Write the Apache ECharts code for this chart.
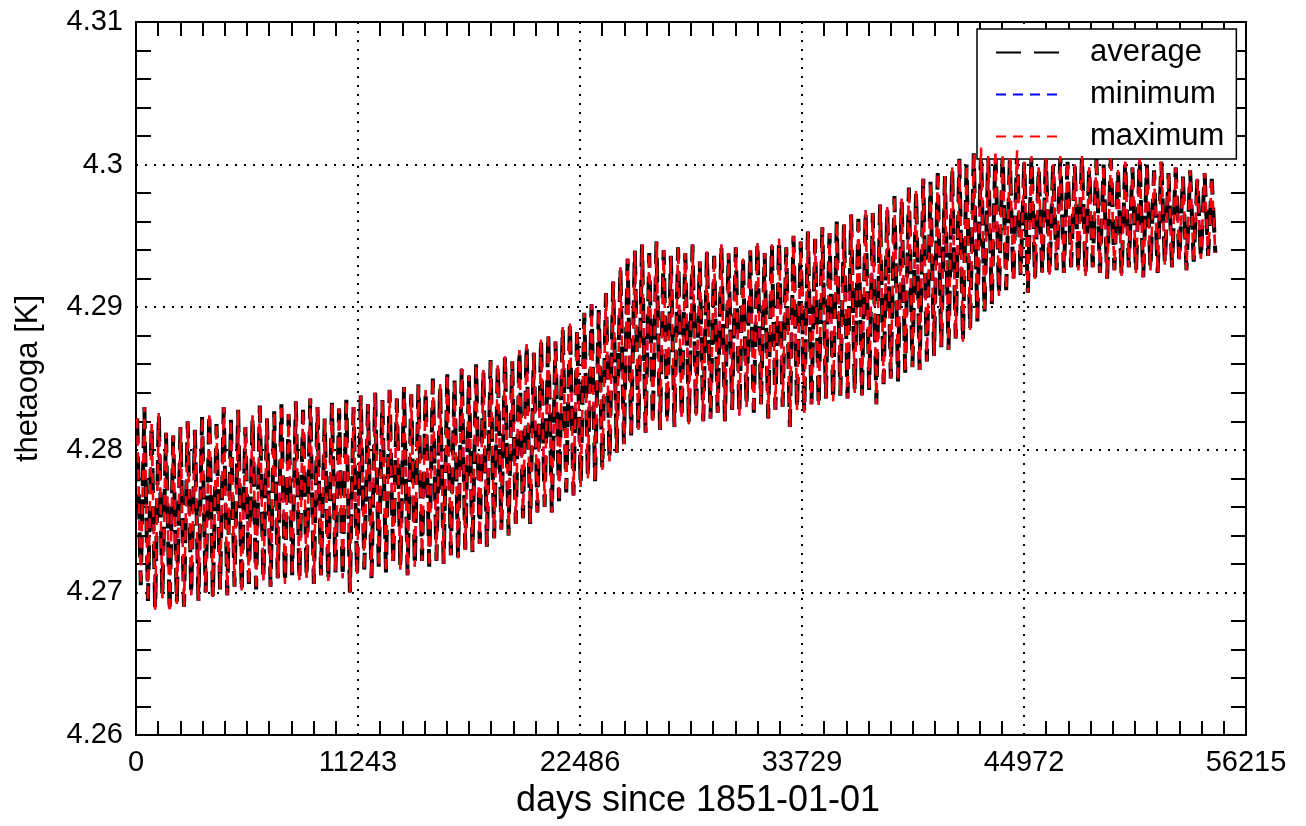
<!DOCTYPE html>
<html>
<head>
<meta charset="utf-8">
<script src="https://cdn.jsdelivr.net/npm/echarts@6/dist/echarts.min.js"></script>
<style>
html,body{margin:0;padding:0;background:#fff;}
#chart{width:1306px;height:826px;}
</style>
</head>
<body>
<div id="chart"></div>
<script>
// Tick labels / axis setup values
const xTicks = [0, 11243, 22486, 33729, 44972, 56215];
const yTicks = [4.26, 4.27, 4.28, 4.29, 4.30, 4.31];
const seriesNames = ['average', 'minimum', 'maximum'];

// Yearly seasonal highs, one per model year
const yearlyPeaks = [
  4.2822, 4.2830, 4.2818, 4.2826, 4.2812, 4.2810, 4.2816, 4.2820, 4.2814, 4.2823,
  4.2826, 4.2818, 4.2830, 4.2821, 4.2828, 4.2816, 4.2824, 4.2831, 4.2822, 4.2827,
  4.2832, 4.2825, 4.2834, 4.2828, 4.2836, 4.2830, 4.2822, 4.2833, 4.2829, 4.2835,
  4.2830, 4.2838, 4.2832, 4.2840, 4.2835, 4.2842, 4.2836, 4.2844, 4.2839, 4.2846,
  4.2842, 4.2850, 4.2846, 4.2853, 4.2849, 4.2857, 4.2852, 4.2860, 4.2856, 4.2863,
  4.2860, 4.2866, 4.2862, 4.2870, 4.2874, 4.2868, 4.2878, 4.2882, 4.2876, 4.2886,
  4.2890, 4.2884, 4.2896, 4.2902, 4.2898, 4.2910, 4.2918, 4.2928, 4.2934, 4.2940,
  4.2944, 4.2938, 4.2946, 4.2940, 4.2936, 4.2942, 4.2938, 4.2944, 4.2932, 4.2939,
  4.2936, 4.2944, 4.2938, 4.2942, 4.2934, 4.2940, 4.2946, 4.2938, 4.2944, 4.2948,
  4.2942, 4.2950, 4.2946, 4.2953, 4.2948, 4.2956, 4.2952, 4.2960, 4.2958, 4.2965,
  4.2962, 4.2968, 4.2966, 4.2972, 4.2970, 4.2978, 4.2976, 4.2984, 4.2982, 4.2990,
  4.2988, 4.2994, 4.2992, 4.2998, 4.3004, 4.3000, 4.3008, 4.3012, 4.3006, 4.3010,
  4.3008, 4.3004, 4.3010, 4.3002, 4.3006, 4.2998, 4.3004, 4.3000, 4.3006, 4.3002,
  4.3000, 4.3006, 4.2998, 4.3004, 4.3000, 4.3006, 4.2996, 4.3002, 4.2998, 4.3004,
  4.3000, 4.2996, 4.3002, 4.2994, 4.2998, 4.2992, 4.2996, 4.2990, 4.2994, 4.2990
];
// Yearly seasonal lows
const yearlyTroughs = [
  4.2705, 4.2694, 4.2688, 4.2696, 4.2686, 4.2692, 4.2690, 4.2698, 4.2694, 4.2700,
  4.2696, 4.2702, 4.2698, 4.2704, 4.2700, 4.2706, 4.2702, 4.2708, 4.2704, 4.2710,
  4.2706, 4.2712, 4.2708, 4.2710, 4.2706, 4.2712, 4.2708, 4.2714, 4.2710, 4.2700,
  4.2712, 4.2716, 4.2710, 4.2718, 4.2714, 4.2720, 4.2716, 4.2712, 4.2718, 4.2722,
  4.2718, 4.2722, 4.2720, 4.2726, 4.2724, 4.2730, 4.2728, 4.2734, 4.2732, 4.2738,
  4.2744, 4.2740, 4.2748, 4.2752, 4.2748, 4.2756, 4.2760, 4.2756, 4.2764, 4.2770,
  4.2768, 4.2774, 4.2780, 4.2778, 4.2786, 4.2792, 4.2798, 4.2804, 4.2810, 4.2814,
  4.2812, 4.2818, 4.2814, 4.2820, 4.2816, 4.2822, 4.2818, 4.2824, 4.2820, 4.2822,
  4.2826, 4.2820, 4.2828, 4.2824, 4.2830, 4.2826, 4.2832, 4.2822, 4.2828, 4.2830,
  4.2816, 4.2828, 4.2826, 4.2832, 4.2830, 4.2836, 4.2834, 4.2838, 4.2836, 4.2840,
  4.2838, 4.2842, 4.2832, 4.2846, 4.2850, 4.2848, 4.2854, 4.2858, 4.2856, 4.2862,
  4.2866, 4.2872, 4.2870, 4.2878, 4.2876, 4.2884, 4.2890, 4.2896, 4.2902, 4.2908,
  4.2912, 4.2918, 4.2922, 4.2910, 4.2920, 4.2924, 4.2922, 4.2926, 4.2924, 4.2928,
  4.2926, 4.2922, 4.2928, 4.2924, 4.2920, 4.2926, 4.2922, 4.2928, 4.2924, 4.2921,
  4.2926, 4.2924, 4.2930, 4.2928, 4.2932, 4.2926, 4.2932, 4.2934, 4.2936, 4.2938
];
// The global min and max fields coincide with the average
const minValues = yearlyPeaks;   // same field
const maxValues = yearlyPeaks;

const DAYS_PER_YEAR = 365.25;
function buildSeries(peaks, troughs) {
  const out = [];
  for (let i = 0; i < peaks.length; i++) {
    out.push([i * DAYS_PER_YEAR + 60, peaks[i]]);
    out.push([i * DAYS_PER_YEAR + 240, troughs[i]]);
  }
  return out;
}
const avgData = buildSeries(yearlyPeaks, yearlyTroughs);
const minData = buildSeries(minValues, yearlyTroughs);
const maxData = buildSeries(maxValues, yearlyTroughs);

const FONT = 'Liberation Sans';
const xMin = xTicks[0], xMax = xTicks[xTicks.length - 1], xInt = xTicks[1] - xTicks[0];
const yMin = yTicks[0], yMax = yTicks[yTicks.length - 1];

const fmtY = v => String(parseFloat(v.toFixed(2)));
const fmtX = v => String(Math.round(v));

function baseX(extra) {
  return Object.assign({
    type: 'value', min: xMin, max: xMax, interval: xInt,
    axisLine: { show: true, onZero: false, lineStyle: { color: '#000', width: 2 } },
    axisTick: { show: false, inside: true },
    minorTick: { show: true, splitNumber: 10, length: 14, lineStyle: { color: '#000', width: 2 } },
    splitLine: { show: false },
    minorSplitLine: { show: false }
  }, extra);
}
function baseY(extra) {
  return Object.assign({
    type: 'value', min: yMin, max: yMax, interval: 0.01,
    axisLine: { show: true, onZero: false, lineStyle: { color: '#000', width: 2 } },
    axisTick: { show: false, inside: true },
    minorTick: { show: true, splitNumber: 5, length: 15, lineStyle: { color: '#000', width: 2 } },
    splitLine: { show: false },
    minorSplitLine: { show: false }
  }, extra);
}

const chart = echarts.init(document.getElementById('chart'), null, { renderer: 'canvas' });
chart.setOption({
  animation: false,
  backgroundColor: '#fff',
  grid: { left: 136, right: 60, top: 22, bottom: 91, containLabel: false, outerBoundsMode: 'none' },
  legend: {
    data: seriesNames,
    left: 977, top: 29,
    orient: 'vertical',
    backgroundColor: '#fff',
    borderColor: '#000', borderWidth: 1.5, borderRadius: 0,
    padding: [8, 12, 7, 18],
    itemWidth: 64, itemHeight: 20, itemGap: 11,
    itemStyle: { color: 'rgba(0,0,0,0)', borderWidth: 0, opacity: 0 },
    textStyle: { fontFamily: FONT, fontSize: 31, color: '#000', lineHeight: 31, padding: [0, 0, 0, 25] }
  },
  xAxis: [
    baseX({
      position: 'bottom',
      name: 'days since 1851-01-01', nameLocation: 'middle', nameGap: 48,
      nameTextStyle: { fontFamily: FONT, fontSize: 36, color: '#000', padding: [0, 0, 0, 14] },
      axisLabel: { show: true, margin: 13, fontFamily: FONT, fontSize: 29, color: '#000', formatter: fmtX },
      splitLine: { show: true, lineStyle: { color: '#000', width: 2, type: [2, 7] } }
    }),
    baseX({ position: 'top', axisLabel: { show: false } })
  ],
  yAxis: [
    baseY({
      position: 'left',
      name: 'thetaoga [K]', nameLocation: 'middle', nameGap: 92, nameRotate: 90,
      nameTextStyle: { fontFamily: FONT, fontSize: 31, color: '#000' },
      axisLabel: { show: true, margin: 13, fontFamily: FONT, fontSize: 29, color: '#000', formatter: fmtY },
      splitLine: { show: true, lineStyle: { color: '#000', width: 2, type: [2, 7] } }
    }),
    baseY({ position: 'right', axisLabel: { show: false } })
  ],
  series: [
    {
      name: seriesNames[0], type: 'line', data: avgData, symbol: 'none',
      xAxisIndex: 0, yAxisIndex: 0,
      lineStyle: { color: '#000', width: 4, type: [25, 13] },
      itemStyle: { color: '#000' }, z: 2
    },
    {
      name: seriesNames[1], type: 'line', data: minData, symbol: 'none',
      xAxisIndex: 0, yAxisIndex: 0,
      lineStyle: { color: '#0000ff', width: 2, type: [10, 7] },
      itemStyle: { color: '#0000ff' }, z: 3
    },
    {
      name: seriesNames[2], type: 'line', data: maxData, symbol: 'none',
      xAxisIndex: 0, yAxisIndex: 0,
      lineStyle: { color: '#ff0000', width: 2.5, type: [10, 7] },
      itemStyle: { color: '#ff0000' }, z: 4
    }
  ]
});
</script>
</body>
</html>
